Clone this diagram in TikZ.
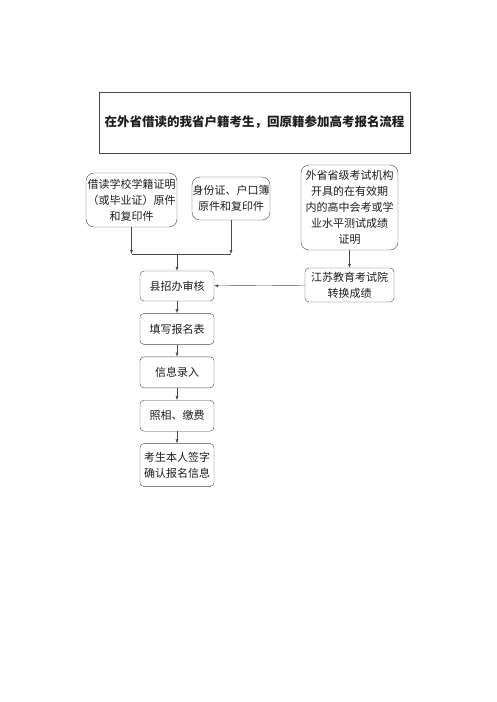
\documentclass[tikz,border=0pt]{standalone}
\usepackage{fontspec}
\usepackage{xcolor}
\usetikzlibrary{arrows.meta,positioning}
\newfontfamily\cjk{Noto Sans CJK SC}
\definecolor{flowline}{HTML}{4A4A4A}
\definecolor{flowtext}{HTML}{1E1E1E}

\begin{document}
\begin{tikzpicture}[
  x=1pt, y=-1pt,
  node distance=12pt,
  every node/.style={font=\cjk\fontsize{11}{16}\selectfont, align=center, text=flowtext, inner sep=0pt},
  titlebox/.style={draw=flowline, minimum width=311pt, minimum height=61pt, font=\cjk\bfseries\fontsize{12.5}{15}\selectfont},
  docbox/.style={draw=flowline, rounded corners=8pt},
  stepbox/.style={draw=flowline, rounded corners=4pt, minimum width=74pt, minimum height=31pt},
  arr/.style={-{Latex[length=4pt,width=3pt]}, draw=flowline},
  plain/.style={draw=flowline}
]
\useasboundingbox[fill=white] (0,0) rectangle (496,702);
\node[titlebox] (title) at (254.5,122.5) {在外省借读的我省户籍考生，回原籍参加高考报名流程};
\node[docbox, minimum width=91pt, minimum height=54pt] (school) at (131.5,200) {借读学校学籍证明\\（或毕业证）原件\\和复印件};
\node[docbox, minimum width=78pt, minimum height=43pt] (idcard) at (231,198.5) {身份证、户口簿\\原件和复印件};
\node[docbox, minimum width=97pt, minimum height=85pt] (score) at (349.5,207.5) {外省省级考试机构\\开具的在有效期\\内的高中会考或学\\业水平测试成绩\\证明};
\node[stepbox, minimum width=89pt, minimum height=34pt] (convert) at (349.5,285) {江苏教育考试院\\转换成绩};
\node[stepbox, minimum height=30pt] (review) at (177,286) {县招办审核};
\node[stepbox, below=of review] (form) {填写报名表};
\node[stepbox, below=of form] (entry) {信息录入};
\node[stepbox, below=of entry] (photo) {照相、缴费};
\node[stepbox, minimum height=43pt, below=of photo] (sign) {考生本人签字\\确认报名信息};
\coordinate (join) at (177,254);
\draw[arr] (school) -- (school |- join);
\draw[arr] (idcard) -- (idcard |- join);
\draw[plain] (school |- join) -- (idcard |- join);
\draw[arr] (join) -- (review);
\draw[arr] (score) -- (convert);
\draw[arr] (convert) -- (review);
\draw[arr] (review) -- (form);
\draw[arr] (form) -- (entry);
\draw[arr] (entry) -- (photo);
\draw[arr] (photo) -- (sign);
\end{tikzpicture}
\end{document}
